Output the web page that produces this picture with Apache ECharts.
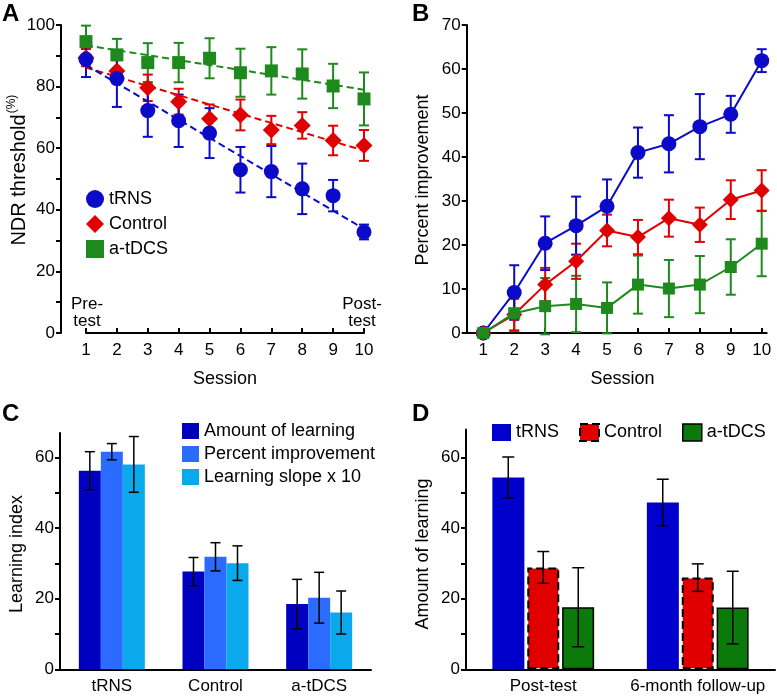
<!DOCTYPE html>
<html><head><meta charset="utf-8">
<script src="https://cdn.jsdelivr.net/npm/echarts@6/dist/echarts.min.js"></script>
<style>html,body{margin:0;padding:0;background:#fff}#c{width:777px;height:697px}</style>
</head><body><div id="c"></div>
<script>
// ---------- DATA ----------
const sessions = [1,2,3,4,5,6,7,8,9,10];
// Panel A: NDR threshold (%)
const aTRNS     = [88.9,82.6,72.2,68.9,64.9,53.0,52.4,46.8,44.6,32.8];
const aTRNSErr  = [5.8,9.2,8.5,8.5,8.1,7.4,8.3,8.2,5.1,2.4];
const aCtrl     = [89.4,85.1,79.6,75.1,69.6,70.8,65.9,67.4,62.5,60.9];
const aCtrlErr  = [2.8,3.5,4.3,4.2,4.6,5.0,4.6,4.3,4.8,5.0];
const aTDCS     = [94.6,90.3,87.8,87.8,89.2,84.5,85.1,84.1,80.2,76.0];
const aTDCSErr  = [5.2,5.2,6.3,6.4,6.5,7.8,7.7,8.0,7.2,8.6];
// dashed trend lines (value at session 1 and session 10)
const aTrendTRNS = [87.0, 33.8];
const aTrendCtrl = [86.2, 59.2];
const aTrendTDCS = [93.4, 79.0];
// Panel B: percent improvement
const bTRNS     = [0,9.2,20.4,24.4,28.8,41.0,43.0,46.9,49.7,61.9];
const bTRNSErr  = [0,6.2,6.1,6.6,6.1,5.7,6.5,7.4,4.2,2.6];
const bCtrl     = [0,4.2,11.0,16.3,23.3,21.8,26.1,24.6,30.3,32.4];
const bCtrlErr  = [0,3.6,3.8,4.0,3.6,3.9,4.2,3.9,4.4,4.6];
const bTDCS     = [0,4.5,6.1,6.6,5.7,11.0,10.1,11.0,15.0,20.3];
const bTDCSErr  = [0,4.1,6.4,6.4,5.8,6.6,6.5,6.5,6.3,7.4];
// Panel C: learning index
const cGroups     = ['tRNS','Control','a-tDCS'];
const cAmount     = [56.3,27.7,18.5];
const cAmountErr  = [5.4,4.0,7.0];
const cPercent    = [61.7,31.9,20.3];
const cPercentErr = [2.3,4.0,7.2];
const cSlope      = [58.1,30.1,16.1];
const cSlopeErr   = [7.9,4.9,6.1];
// Panel D: amount of learning
const dPhases   = ['Post-test','6-month follow-up'];
const dTRNS     = [54.4,47.3];
const dTRNSErr  = [5.8,6.6];
const dCtrl     = [28.9,26.0];
const dCtrlErr  = [4.5,3.9];
const dTDCS     = [17.6,17.5];
const dTDCSErr  = [11.2,10.3];
// tick values
const aYTicks = [0,10,20,30,40,50,60,70,80,90,100];
const aYLabels = [0,20,40,60,80,100];
const bYTicks = [0,10,20,30,40,50,60,70];
const cdYTicks = [0,10,20,30,40,50,60];
const cdYLabels = [0,20,40,60];

// ---------- STYLE ----------
const FF = '"Liberation Sans", Arial, Helvetica, sans-serif';
const BLUE = '#0a0ac8', RED = '#e00000', GREEN = '#1e8a1e';
const C1 = '#0000c0', C2 = '#2b6bff', C3 = '#0aa9ec';
const DB = '#0000cc', DR = '#e00000', DG = '#0b7a0b';

const pts = (xs, ys) => xs.map((x,i) => [x, ys[i]]);
const errData = (xs, m, e) => xs.map((x,i) => [x, m[i]-e[i], m[i]+e[i]]);
function errBar(color, lw, halfCap, offset) {
  return function (params, api) {
    const x = api.value(0);
    const lo = api.coord([x, api.value(1)]);
    const hi = api.coord([x, api.value(2)]);
    const cx = lo[0] + offset;
    const st = {stroke: color, lineWidth: lw};
    return {type:'group', children:[
      {type:'line', shape:{x1:cx,y1:lo[1],x2:cx,y2:hi[1]}, style:st},
      {type:'line', shape:{x1:cx-halfCap,y1:lo[1],x2:cx+halfCap,y2:lo[1]}, style:st},
      {type:'line', shape:{x1:cx-halfCap,y1:hi[1],x2:cx+halfCap,y2:hi[1]}, style:st}
    ]};
  };
}
const axLine = {show:true, lineStyle:{color:'#000', width:2}};
const lbl = (extra) => Object.assign({color:'#000', fontSize:17, fontFamily:FF}, extra||{});

const xsC = [0,1,2], xsD = [0,1];

const option = {
  animation:false,
  backgroundColor:'#fff',
  textStyle:{fontFamily:FF},
  grid:[
    {left:86, top:25, width:278, height:308},        // A
    {left:483.3, top:25, width:278.4, height:308},   // B
    {left:466.7, top:25, width:300, height:308},     // B axis line
    {left:60, top:433, width:311, height:236.3},     // C
    {left:466, top:429.5, width:309, height:239.8}   // D
  ],
  xAxis:[
    {gridIndex:0, type:'value', min:1, max:10, interval:1, axisLine:axLine,
     axisTick:{inside:true, length:5, lineStyle:{color:'#000', width:2}},
     axisLabel:lbl({margin:9}), splitLine:{show:false},
     name:'Session', nameLocation:'middle', nameGap:37, nameTextStyle:{color:'#000', fontSize:18, fontFamily:FF}},
    {gridIndex:1, type:'value', min:1, max:10, interval:1, axisLine:{show:false},
     axisTick:{inside:true, length:5, lineStyle:{color:'#000', width:2}},
     axisLabel:lbl({margin:9}), splitLine:{show:false},
     name:'Session', nameLocation:'middle', nameGap:37, nameTextStyle:{color:'#000', fontSize:18, fontFamily:FF}},
    {gridIndex:2, type:'value', min:0, max:1, axisLine:axLine, axisTick:{show:false}, axisLabel:{show:false}, splitLine:{show:false}},
    {gridIndex:3, type:'category', data:cGroups, axisLine:axLine, axisTick:{show:false}, axisLabel:lbl({margin:9, interval:0})},
    {gridIndex:4, type:'category', data:dPhases, axisLine:axLine, axisTick:{show:false}, axisLabel:lbl({margin:9, interval:0, hideOverlap:false})}
  ],
  yAxis:[
    {gridIndex:0, type:'value', min:0, max:100, interval:10, offset:25, axisLine:axLine,
     axisTick:{length:5, lineStyle:{color:'#000', width:2}, customValues:aYTicks},
     axisLabel:lbl({margin:6, customValues:aYLabels, formatter:v => (v%20===0 ? v : '')}), splitLine:{show:false}},
    {gridIndex:1, type:'value', min:0, max:70, interval:10, offset:16.6, axisLine:axLine,
     axisTick:{length:5, lineStyle:{color:'#000', width:2}, customValues:bYTicks},
     axisLabel:lbl({margin:6, customValues:bYTicks}), splitLine:{show:false}},
    {gridIndex:2, type:'value', show:false, min:0, max:1},
    {gridIndex:3, type:'value', min:0, max:67, interval:10, axisLine:axLine,
     axisTick:{show:true, length:5, lineStyle:{color:'#000', width:2}, customValues:cdYTicks},
     axisLabel:lbl({margin:6, customValues:cdYLabels, formatter:v => (v%20===0 ? v : '')}), splitLine:{show:false}},
    {gridIndex:4, type:'value', min:0, max:68, interval:10, axisLine:axLine,
     axisTick:{show:true, length:5, lineStyle:{color:'#000', width:2}, customValues:cdYTicks},
     axisLabel:lbl({margin:6, customValues:cdYLabels, formatter:v => (v%20===0 ? v : '')}), splitLine:{show:false}}
  ],
  legend:[
    {orient:'vertical', left:81, top:185, itemWidth:18, itemHeight:18, itemGap:7, selectedMode:false,
     textStyle:{color:'#000', fontSize:18, fontFamily:FF},
     data:[{name:'tRNS', icon:'circle'},{name:'Control', icon:'diamond'},{name:'a-tDCS', icon:'rect'}]},
    {orient:'vertical', left:177, top:417, itemWidth:17, itemHeight:16, itemGap:5, selectedMode:false,
     textStyle:{color:'#000', fontSize:18, fontFamily:FF}, icon:'rect',
     data:['Amount of learning','Percent improvement','Learning slope x 10']},
    {orient:'horizontal', left:487, top:418, itemWidth:19, itemHeight:17, itemGap:20, selectedMode:false,
     textStyle:{color:'#000', fontSize:18, fontFamily:FF}, icon:'rect',
     formatter: n => n.replace(/^D-/, ''),
     data:[{name:'D-tRNS'},
           {name:'D-Control', itemStyle:{borderColor:'#000', borderWidth:2, borderType:'dashed'}},
           {name:'D-a-tDCS', itemStyle:{borderColor:'#000', borderWidth:1.5}}]}
  ],
  graphic:[
    {type:'text', left:2, top:2, style:{text:'A', font:'bold 24px '+FF, fill:'#000'}},
    {type:'text', left:412, top:2, style:{text:'B', font:'bold 24px '+FF, fill:'#000'}},
    {type:'text', left:2, top:402, style:{text:'C', font:'bold 24px '+FF, fill:'#000'}},
    {type:'text', left:412, top:402, style:{text:'D', font:'bold 24px '+FF, fill:'#000'}},
    {type:'text', x:87, y:313, style:{text:'Pre-\ntest', font:'17px '+FF, fill:'#000', align:'center', verticalAlign:'middle', lineHeight:17}},
    {type:'text', x:362, y:313, style:{text:'Post-\ntest', font:'17px '+FF, fill:'#000', align:'center', verticalAlign:'middle', lineHeight:17}},
    {type:'text', x:19, y:180, rotation:Math.PI/2, style:{text:'NDR threshold', font:'20px '+FF, fill:'#000', align:'center', verticalAlign:'middle'}},
    {type:'text', x:12, y:104, rotation:Math.PI/2, style:{text:'(%)', font:'12px '+FF, fill:'#000', align:'center', verticalAlign:'middle'}},
    {type:'text', x:423, y:180, rotation:Math.PI/2, style:{text:'Percent improvement', font:'18px '+FF, fill:'#000', align:'center', verticalAlign:'middle'}},
    {type:'text', x:17, y:554, rotation:Math.PI/2, style:{text:'Learning index', font:'18px '+FF, fill:'#000', align:'center', verticalAlign:'middle'}},
    {type:'text', x:423, y:554, rotation:Math.PI/2, style:{text:'Amount of learning', font:'18px '+FF, fill:'#000', align:'center', verticalAlign:'middle'}}
  ],
  series:[
    // ---- Panel A ----
    {name:'errA-tDCS', type:'custom', xAxisIndex:0, yAxisIndex:0, renderItem:errBar(GREEN,2,5,0), encode:{x:0,y:[1,2]}, data:errData(sessions,aTDCS,aTDCSErr), z:2},
    {name:'errA-Ctrl', type:'custom', xAxisIndex:0, yAxisIndex:0, renderItem:errBar(RED,2,5,0), encode:{x:0,y:[1,2]}, data:errData(sessions,aCtrl,aCtrlErr), z:2},
    {name:'errA-tRNS', type:'custom', xAxisIndex:0, yAxisIndex:0, renderItem:errBar(BLUE,2,5,0), encode:{x:0,y:[1,2]}, data:errData(sessions,aTRNS,aTRNSErr), z:2},
    {name:'fitA-tDCS', type:'line', xAxisIndex:0, yAxisIndex:0, symbol:'none', data:[[1,aTrendTDCS[0]],[10,aTrendTDCS[1]]], lineStyle:{color:GREEN, width:2, type:[7,4]}, z:3},
    {name:'fitA-Ctrl', type:'line', xAxisIndex:0, yAxisIndex:0, symbol:'none', data:[[1,aTrendCtrl[0]],[10,aTrendCtrl[1]]], lineStyle:{color:RED, width:2, type:[7,4]}, z:3},
    {name:'fitA-tRNS', type:'line', xAxisIndex:0, yAxisIndex:0, symbol:'none', data:[[1,aTrendTRNS[0]],[10,aTrendTRNS[1]]], lineStyle:{color:BLUE, width:2, type:[7,4]}, z:3},
    {name:'a-tDCS', type:'scatter', xAxisIndex:0, yAxisIndex:0, symbol:'rect', symbolSize:13, itemStyle:{color:GREEN, opacity:1}, data:pts(sessions,aTDCS), z:4},
    {name:'Control', type:'scatter', xAxisIndex:0, yAxisIndex:0, symbol:'diamond', symbolSize:17, itemStyle:{color:RED, opacity:1}, data:pts(sessions,aCtrl), z:4},
    {name:'tRNS', type:'scatter', xAxisIndex:0, yAxisIndex:0, symbol:'circle', symbolSize:15, itemStyle:{color:BLUE, opacity:1}, data:pts(sessions,aTRNS), z:4},
    // ---- Panel B ----
    {name:'errB-tDCS', type:'custom', xAxisIndex:1, yAxisIndex:1, renderItem:errBar(GREEN,2,5,0), encode:{x:0,y:[1,2]}, data:errData(sessions,bTDCS,bTDCSErr), z:2},
    {name:'errB-Ctrl', type:'custom', xAxisIndex:1, yAxisIndex:1, renderItem:errBar(RED,2,5,0), encode:{x:0,y:[1,2]}, data:errData(sessions,bCtrl,bCtrlErr), z:2},
    {name:'errB-tRNS', type:'custom', xAxisIndex:1, yAxisIndex:1, renderItem:errBar(BLUE,2,5,0), encode:{x:0,y:[1,2]}, data:errData(sessions,bTRNS,bTRNSErr), z:2},
    {name:'B-tRNS', type:'line', xAxisIndex:1, yAxisIndex:1, symbol:'circle', symbolSize:15, data:pts(sessions,bTRNS), lineStyle:{color:BLUE,width:2}, itemStyle:{color:BLUE}, clip:false, z:3},
    {name:'B-Control', type:'line', xAxisIndex:1, yAxisIndex:1, symbol:'diamond', symbolSize:16, data:pts(sessions,bCtrl), lineStyle:{color:RED,width:2}, itemStyle:{color:RED}, clip:false, z:4},
    {name:'B-a-tDCS', type:'line', xAxisIndex:1, yAxisIndex:1, symbol:'rect', symbolSize:12, data:pts(sessions,bTDCS), lineStyle:{color:GREEN,width:2}, itemStyle:{color:GREEN}, clip:false, z:5},
    // ---- Panel C ----
    {name:'Amount of learning', type:'bar', xAxisIndex:3, yAxisIndex:3, barWidth:22, barGap:'0%', itemStyle:{color:C1}, data:cAmount},
    {name:'Percent improvement', type:'bar', xAxisIndex:3, yAxisIndex:3, barWidth:22, barGap:'0%', itemStyle:{color:C2}, data:cPercent},
    {name:'Learning slope x 10', type:'bar', xAxisIndex:3, yAxisIndex:3, barWidth:22, barGap:'0%', itemStyle:{color:C3}, data:cSlope},
    {name:'errC-1', type:'custom', xAxisIndex:3, yAxisIndex:3, renderItem:errBar('#000',1.5,5,-22), encode:{x:0,y:[1,2]}, data:errData(xsC,cAmount,cAmountErr), z:5},
    {name:'errC-2', type:'custom', xAxisIndex:3, yAxisIndex:3, renderItem:errBar('#000',1.5,5,0), encode:{x:0,y:[1,2]}, data:errData(xsC,cPercent,cPercentErr), z:5},
    {name:'errC-3', type:'custom', xAxisIndex:3, yAxisIndex:3, renderItem:errBar('#000',1.5,5,22), encode:{x:0,y:[1,2]}, data:errData(xsC,cSlope,cSlopeErr), z:5},
    // ---- Panel D ----
    {name:'D-tRNS', type:'bar', xAxisIndex:4, yAxisIndex:4, barWidth:32, barGap:'9%', itemStyle:{color:DB}, data:dTRNS},
    {name:'D-Control', type:'bar', xAxisIndex:4, yAxisIndex:4, barWidth:32, barGap:'9%', itemStyle:{color:DR, borderColor:'#000', borderWidth:2, borderType:'dashed'}, data:dCtrl},
    {name:'D-a-tDCS', type:'bar', xAxisIndex:4, yAxisIndex:4, barWidth:32, barGap:'9%', itemStyle:{color:DG, borderColor:'#000', borderWidth:1.5}, data:dTDCS},
    {name:'errD-1', type:'custom', xAxisIndex:4, yAxisIndex:4, renderItem:errBar('#000',1.5,6,-35), encode:{x:0,y:[1,2]}, data:errData(xsD,dTRNS,dTRNSErr), z:5},
    {name:'errD-2', type:'custom', xAxisIndex:4, yAxisIndex:4, renderItem:errBar('#000',1.5,6,0), encode:{x:0,y:[1,2]}, data:errData(xsD,dCtrl,dCtrlErr), z:5},
    {name:'errD-3', type:'custom', xAxisIndex:4, yAxisIndex:4, renderItem:errBar('#000',1.5,6,35), encode:{x:0,y:[1,2]}, data:errData(xsD,dTDCS,dTDCSErr), z:5}
  ]
};
const chart = echarts.init(document.getElementById('c'), null, {renderer:'canvas'});
chart.setOption(option);
</script>
</body></html>
